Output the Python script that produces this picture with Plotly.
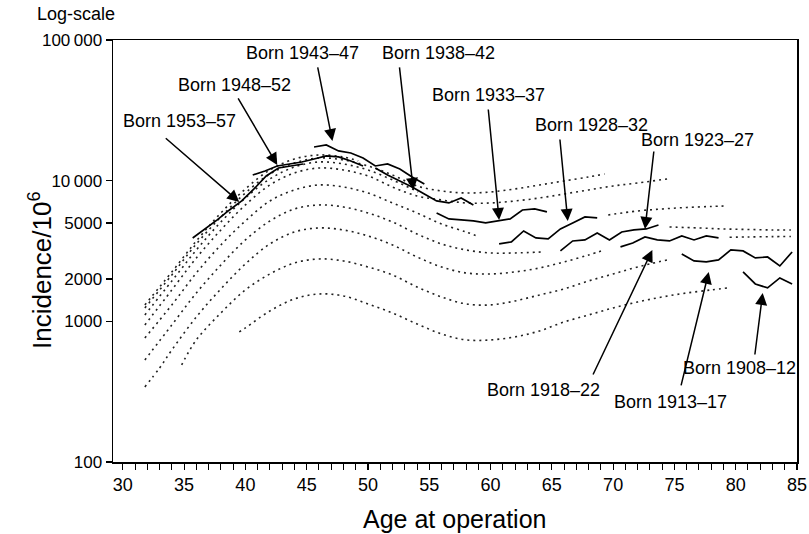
import math
import plotly.graph_objects as go

# ---------------- data ----------------
# Dotted (fitted/projected) curves: ages and incidence per 10^6
dot_L1_age = [39.5, 40, 42, 44, 46, 48, 50, 52, 54, 56, 58, 60, 62, 64, 66, 68, 70, 72, 74, 76, 78, 79.3]
dot_L1_val = [841, 898, 1185, 1442, 1565, 1515, 1330, 1147, 958, 814, 738, 738, 775, 855, 990, 1110, 1245, 1373, 1490, 1591, 1672, 1728]

dot_L2_age = [34.8, 36, 38, 40, 42, 44, 46, 48, 50, 52, 54, 56, 58, 60, 62, 64, 66, 68, 70, 72, 74.4]
dot_L2_val = [490, 738, 1147, 1672, 2172, 2601, 2777, 2688, 2436, 2137, 1755, 1490, 1330, 1308, 1396, 1540, 1700, 1937, 2172, 2436, 2732]

dot_L3_age = [31.8, 33, 34, 36, 38, 40, 42, 44, 46, 48, 50, 52, 54, 56, 58, 60, 62, 64, 66, 68, 69.3]
dot_L3_val = [342, 466, 626, 1074, 1700, 2559, 3549, 4319, 4611, 4463, 4046, 3492, 2869, 2436, 2208, 2172, 2245, 2396, 2644, 2964, 3217]

dot_L4_age = [31.8, 34, 36, 38, 40, 42, 44, 46, 48, 50, 52, 54, 56, 58, 60, 62, 64.3]
dot_L4_val = [532, 943, 1591, 2517, 3789, 5172, 6293, 6720, 6504, 5895, 5088, 4181, 3550, 3217, 3063, 3063, 3113]

dot_L5_age = [31.8, 34, 36, 38, 40, 42, 44, 46, 48, 50, 52, 54, 56, 58, 59.1]
dot_L5_val = [762, 1308, 2208, 3492, 5172, 7174, 8590, 9320, 9020, 8175, 6944, 5895, 4923, 4319, 3981]

dot_B_age = [31.8, 34, 36, 38, 40, 42, 44, 46, 48, 50, 52, 54, 56, 58, 60, 62, 64, 66, 68, 70, 72, 74.4]
dot_B_val = [943, 1672, 2823, 4463, 6720, 9320, 11345, 12306, 11910, 10802, 9020, 7784, 7292, 6944, 6944, 7174, 7535, 8043, 8590, 9169, 9630, 10287]

dot_A_age = [31.8, 34, 36, 38, 40, 42, 44, 46, 48, 50, 52, 54, 56, 58, 60, 62, 64, 66, 68, 69.3]
dot_A_val = [1245, 2137, 3550, 5521, 8175, 11161, 13360, 14497, 14030, 12720, 10980, 9169, 8450, 8175, 8313, 8732, 9320, 9956, 10627, 11161]

dot_X1_age = [31.8, 34, 36, 38, 40, 42, 44, 46, 48, 50, 52, 54.1]
dot_X1_val = [1110, 1937, 3217, 5088, 7535, 10287, 12514, 13578, 13143, 11910, 10120, 8313]

dot_X2_age = [31.8, 34, 36, 38, 40, 42, 44, 46, 48, 49.2]
dot_X2_val = [1308, 2245, 3727, 5895, 8732, 11910, 14262, 15230, 14740, 13802]

dot_C_age = [69.6, 72, 74, 76, 78, 79.3]
dot_C_val = [5705, 6090, 6293, 6451, 6557, 6611]

dot_D_age = [74.6, 77, 79, 81, 83, 84.5]
dot_D_val = [4687, 4611, 4536, 4500, 4463, 4463]

dot_E_age = [79.5, 81, 83, 84.5]
dot_E_val = [3960, 3980, 4000, 4010]

# Solid (observed) cohort curves
s1953_age = [35.7, 36.7, 37.7, 38.7, 39.7, 40.7, 41.7, 42.7, 43.7, 44.7]
s1953_val = [3915, 4537, 5257, 6191, 7174, 8732, 10802, 12306, 12720, 13143]

s1948_age = [40.6, 41.6, 42.6, 43.6, 44.6, 45.6, 46.6, 47.6, 48.6, 49.6]
s1948_val = [10980, 11717, 12720, 13143, 13578, 14262, 14983, 14740, 13802, 12720]

s1943_age = [45.6, 46.6, 47.6, 48.6, 49.6, 50.6, 51.6, 52.6, 53.6, 54.6]
s1943_val = [17360, 17940, 16262, 15738, 14497, 12720, 13143, 12107, 10627, 9474]

s1938_age = [50.6, 51.6, 52.6, 53.6, 54.6, 55.6, 56.6, 57.6, 58.6]
s1938_val = [12306, 10980, 9956, 9020, 8043, 7174, 6944, 7535, 6720]

s1933_age = [55.6, 56.6, 57.6, 58.6, 59.6, 60.6, 61.6, 62.6, 63.6, 64.6]
s1933_val = [5895, 5344, 5257, 5172, 5005, 5172, 5344, 6191, 6293, 5992]

s1928_age = [60.7, 61.7, 62.7, 63.7, 64.7, 65.7, 66.7, 67.7, 68.7]
s1928_val = [3550, 3667, 4391, 3915, 3852, 4536, 5005, 5521, 5432]

s1923_age = [65.7, 66.7, 67.7, 68.7, 69.7, 70.7, 71.7, 72.7, 73.7]
s1923_val = [3165, 3727, 3789, 4250, 3789, 4319, 4463, 4536, 4843]

s1918_age = [70.6, 71.6, 72.6, 73.6, 74.6, 75.6, 76.6, 77.6, 78.6]
s1918_val = [3380, 3607, 3981, 3789, 3727, 4046, 3789, 4046, 3915]

s1913_age = [75.6, 76.6, 77.6, 78.6, 79.6, 80.6, 81.6, 82.6, 83.6, 84.6]
s1913_val = [3013, 2688, 2644, 2732, 3217, 3165, 2823, 2869, 2476, 3113]

s1908_age = [80.6, 81.6, 82.6, 83.6, 84.6]
s1908_val = [2245, 1844, 1728, 2035, 1844]

# Labels and the point (age, incidence) each arrow points at
label_text = ["Born 1953\u201357", "Born 1948\u201352", "Born 1943\u201347", "Born 1938\u201342",
              "Born 1933\u201337", "Born 1928\u201332", "Born 1923\u201327", "Born 1918\u201322",
              "Born 1913\u201317", "Born 1908\u201312"]
arrow_age = [39.5, 42.6, 47.1, 53.7, 60.7, 66.3, 72.6, 73.2, 77.8, 82.2]
arrow_val = [7058, 12930, 19150, 8590, 5257, 5172, 4536, 3217, 2245, 1591]

y_tickvals = [100, 1000, 2000, 5000, 10000, 100000]
y_ticktext = ["100", "1000", "2000", "5000", "10\u2009000", "100\u2009000"]
x_tickvals = [30, 35, 40, 45, 50, 55, 60, 65, 70, 75, 80, 85]

# ---------------- layout constants ----------------
W, H = 809, 534
L, R, T, B = 113, 12, 40, 72
PW, PH = W - L - R, H - T - B
FONT = "Liberation Sans, Arial, Helvetica, sans-serif"

def px2paper(px, py):
    return (px - L) / PW, (H - B - py) / PH

# label text centre (pixels) and arrow tail offset (pixels) - layout only
label_px = [(179, 121), (234, 85), (302, 53), (438, 53), (488, 95),
            (591, 125), (697, 140), (543, 390), (670, 402), (739, 368)]
arrow_off = [(-75, -65), (-40, -68), (-15, -75), (-14, -124), (-11, -112),
             (-8, -83), (9, -79), (-60, 126), (-28, 115), (-8, 63)]

fig = go.Figure()

dotted = [(dot_L1_age, dot_L1_val), (dot_L2_age, dot_L2_val), (dot_L3_age, dot_L3_val),
          (dot_L4_age, dot_L4_val), (dot_L5_age, dot_L5_val), (dot_B_age, dot_B_val),
          (dot_A_age, dot_A_val), (dot_X1_age, dot_X1_val), (dot_X2_age, dot_X2_val),
          (dot_C_age, dot_C_val), (dot_D_age, dot_D_val), (dot_E_age, dot_E_val)]
for ax_, vv in dotted:
    fig.add_trace(go.Scatter(x=ax_, y=vv, mode="lines", line_shape="spline",
                             line=dict(color="#222222", width=1.6, dash="2px,4px"),
                             showlegend=False, hoverinfo="skip"))

solid = [(s1953_age, s1953_val), (s1948_age, s1948_val), (s1943_age, s1943_val),
         (s1938_age, s1938_val), (s1933_age, s1933_val), (s1928_age, s1928_val),
         (s1923_age, s1923_val), (s1918_age, s1918_val), (s1913_age, s1913_val),
         (s1908_age, s1908_val)]
for ax_, vv in solid:
    fig.add_trace(go.Scatter(x=ax_, y=vv, mode="lines",
                             line=dict(color="black", width=1.7),
                             showlegend=False, hoverinfo="skip"))

annotations = []
for i, txt in enumerate(label_text):
    xp, yp = px2paper(*label_px[i])
    annotations.append(dict(text=txt, x=xp, y=yp, xref="paper", yref="paper",
                            showarrow=False, font=dict(family=FONT, size=18, color="black"),
                            xanchor="center", yanchor="middle"))
    annotations.append(dict(text="", x=arrow_age[i], y=math.log10(arrow_val[i]),
                            xref="x", yref="y", ax=arrow_off[i][0], ay=arrow_off[i][1],
                            showarrow=True, arrowhead=2, arrowsize=1.6, arrowwidth=1.5,
                            arrowcolor="black", standoff=0, startstandoff=0))

xp, yp = px2paper(35, 14)
annotations.append(dict(text="Log-scale", x=xp, y=yp, xref="paper", yref="paper",
                        showarrow=False, xanchor="left", yanchor="middle",
                        font=dict(family=FONT, size=18, color="black")))
xp, yp = px2paper(454, 519)
annotations.append(dict(text="Age at operation", x=xp, y=yp, xref="paper", yref="paper",
                        showarrow=False, xanchor="center", yanchor="middle",
                        font=dict(family=FONT, size=25, color="black")))
xp, yp = px2paper(40, 270)
annotations.append(dict(text="Incidence/10<sup>6</sup>", x=xp, y=yp, xref="paper", yref="paper",
                        showarrow=False, xanchor="center", yanchor="middle", textangle=-90,
                        font=dict(family=FONT, size=26, color="black")))

fig.update_layout(
    width=W, height=H,
    margin=dict(l=L, r=R, t=T, b=B, autoexpand=False),
    paper_bgcolor="white", plot_bgcolor="white",
    font=dict(family=FONT, size=17, color="black"),
    annotations=annotations,
    xaxis=dict(range=[29.2, 85], tickvals=x_tickvals, ticks="outside", ticklen=6,
               tickwidth=1.2, tickcolor="black", showline=True, linecolor="black",
               linewidth=1.5, mirror=True, showgrid=False, zeroline=False,
               automargin=False, tickfont=dict(family=FONT, size=18),
               minor=dict(dtick=1, ticks="outside", ticklen=6, tickwidth=1, tickcolor="black",
                          showgrid=False)),
    yaxis=dict(type="log", range=[2, 5], tickvals=y_tickvals, ticktext=y_ticktext,
               ticks="outside", ticklen=6, tickwidth=1.2, tickcolor="black",
               showline=True, linecolor="black", linewidth=1.5, mirror=True,
               showgrid=False, zeroline=False, automargin=False,
               tickfont=dict(family=FONT, size=17)),
)

# remove the browser's default 8px page margin so the figure fills the window
fig.write_html("out.html",
               config={"displayModeBar": False, "staticPlot": True},
               post_script="document.documentElement.style.overflow='hidden';"
                           "document.body.style.margin='0';"
                           "document.body.style.overflow='hidden';")
